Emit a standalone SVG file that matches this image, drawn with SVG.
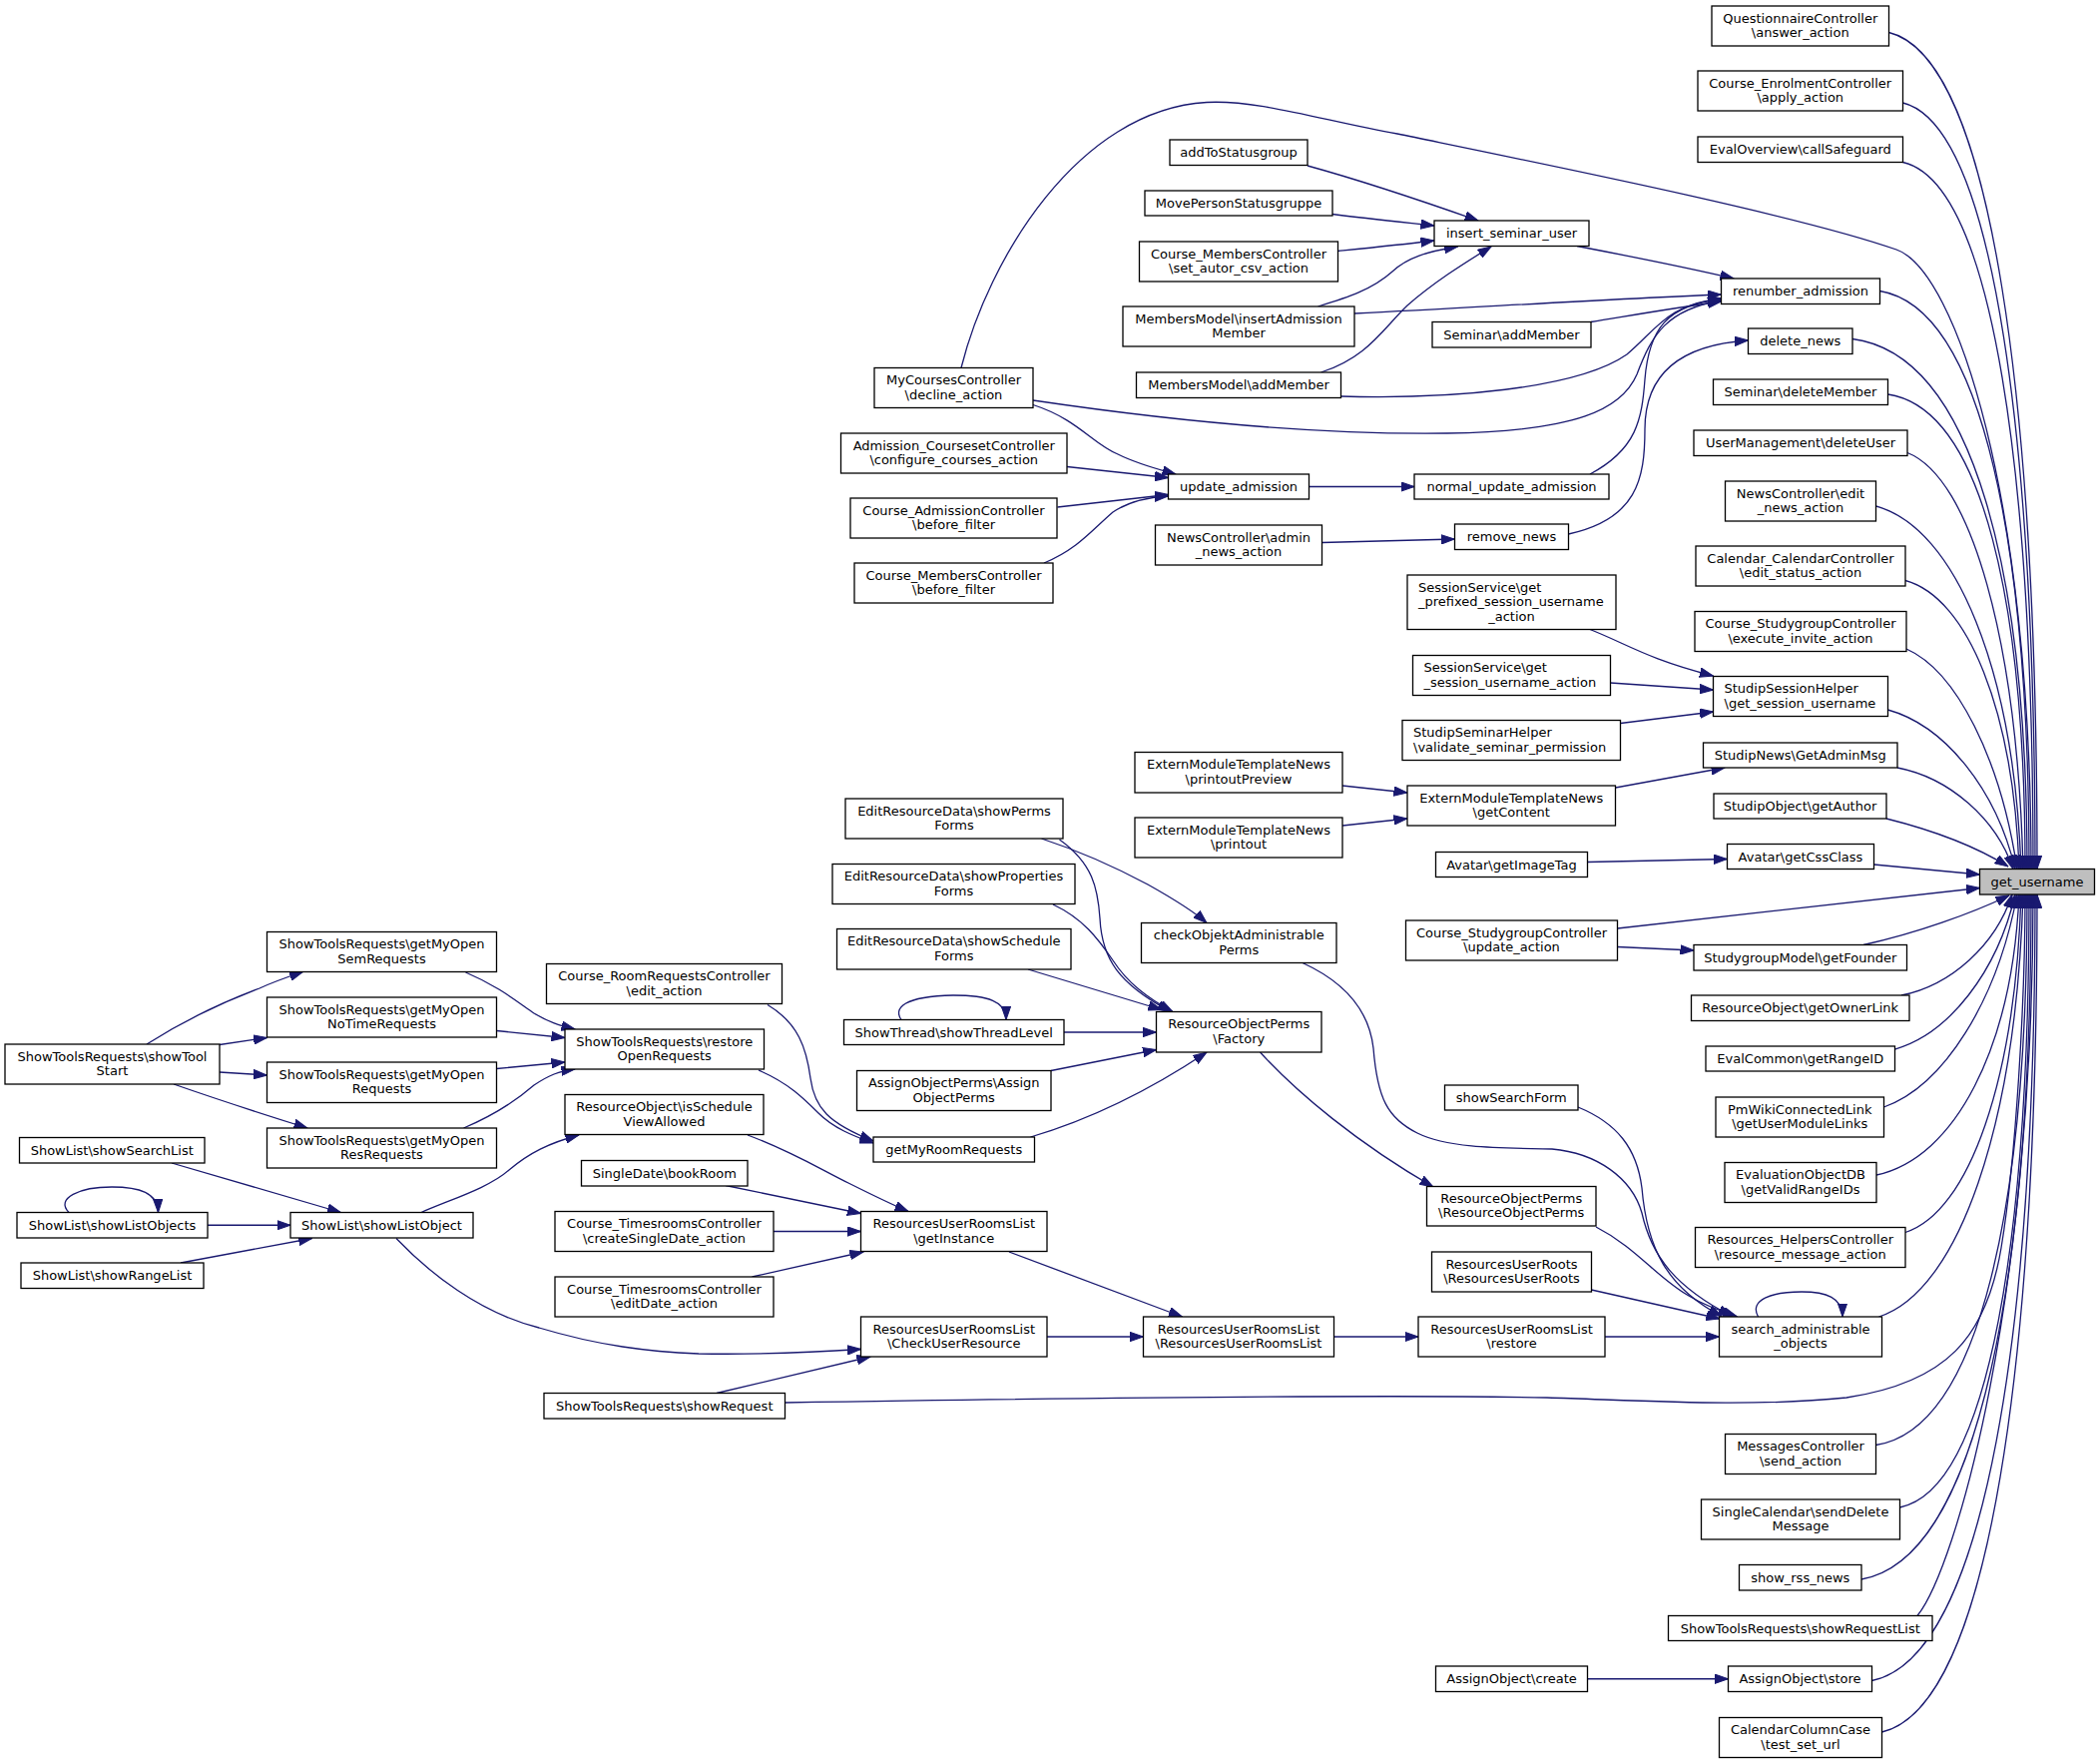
<svg xmlns="http://www.w3.org/2000/svg" width="2104" height="1767" viewBox="0 0 2104 1767">
<style>
.n rect{fill:#fff;stroke:#000;stroke-width:1.3}
.n text{font-family:"DejaVu Sans","Liberation Sans",sans-serif;font-size:13px;text-anchor:middle;fill:#000}
.n text.l{text-anchor:start}
#n39 rect{fill:#bfbfbf}
.e path{fill:none;stroke:#191970;stroke-width:1.3;marker-end:url(#a)}
</style>
<defs>
<marker id="a" markerUnits="userSpaceOnUse" markerWidth="14" markerHeight="10" viewBox="0 0 14 10" refX="13.5" refY="5" orient="auto"><path d="M0,0.3 L13.5,5 L0,9.7 z" fill="#191970" stroke="#191970" stroke-width="1"/></marker>
</defs>
<rect width="2104" height="1767" fill="#fff"/>
<g class="e">
<path d="M1310,166 C1350,177 1410,196 1481,221"/>
<path d="M1335,214.5 C1370,219 1400,222 1437,226"/>
<path d="M1340.5,251.5 C1370,248.5 1400,245.5 1437,241"/>
<path d="M1320.5,307 C1350,298 1375,290 1395,272 C1410,258 1430,252 1460.5,247"/>
<path d="M1323.5,373 C1370,358 1385,330 1410,306 C1440,280 1470,262 1494,247"/>
<path d="M1580,246.5 C1640,258 1690,268 1737,279"/>
<path d="M1357,314 C1480,308 1600,300 1724.5,295"/>
<path d="M1594,322.5 C1640,315 1680,308 1724.5,302"/>
<path d="M1343.5,397 C1450,400 1580,390 1630,355 C1660,330 1670,305 1724.5,299"/>
<path d="M1035,401 C1150,418 1300,436 1450,434 C1580,432 1625,410 1640,375 C1655,335 1670,310 1724.5,301"/>
<path d="M1593,475 C1640,450 1645,420 1648,380 C1652,330 1670,305 1724.5,300"/>
<path d="M963,368.5 C990,260 1080,110 1209,102.5 C1260,99.5 1330,122 1400,134 C1550,165 1800,215 1900,250 C1960,271 2035,500 2035,870.5"/>
<path d="M1035,405.5 C1080,420 1095,445 1120,455 C1140,465 1160,470 1178,475"/>
<path d="M1069,467.5 L1170.5,478.5"/>
<path d="M1059.5,508 L1170.5,495.5"/>
<path d="M1046,564 C1080,550 1095,530 1115,513 C1130,503 1150,498 1170.5,497"/>
<path d="M1311.5,487.5 L1417,487.5"/>
<path d="M1324.5,543.5 L1457.5,540"/>
<path d="M1571.5,535 C1640,520 1648,480 1648,430 C1648,370 1690,345 1751.5,341"/>
<path d="M1892.5,32.5 C1996.5,57.5 2041,409.5 2041,870.5"/>
<path d="M1906.5,103 C1999,126 2039,448.5 2039,870.5"/>
<path d="M1906.5,162.5 C1998,183.5 2037,481 2037,870.5"/>
<path d="M1883.5,291.5 C1988,309 2033,552 2033,870.5"/>
<path d="M1856,339.5 C1978.5,355.5 2031,578.5 2031,870.5"/>
<path d="M1891.5,395 C1987.75,409.3 2029,609 2029,870.5"/>
<path d="M1911,453.5 C1974.8,478.5 2021.2,641.2 2027,870.5"/>
<path d="M1879.5,507 C1959.5,528.8 2017.7,670.6 2025,870.5"/>
<path d="M1909,581.5 C1971.7,598.8 2017.3,711.6 2023,870.5"/>
<path d="M1910,650 C1960,672 2004.4,760 2021,870.5"/>
<path d="M1891.5,711 C1949,727 2000,791 2019,870.5"/>
<path d="M1901,769 C1953,779 2000,820 2017,870.5"/>
<path d="M1890,820 C1930,830 1975,845 2012,868"/>
<path d="M1877.5,866 L1983.5,876"/>
<path d="M1620.5,930 L1983.5,889.5"/>
<path d="M1867,946.5 C1920,935 1975,915 2013,897"/>
<path d="M1905,997 C1955,987 1999.4,946.5 2016,896"/>
<path d="M1898.5,1051 C1952.7,1035.5 2001,973.5 2019,896"/>
<path d="M1887.5,1109 C1947.6,1087.7 2001,1002.5 2021,896"/>
<path d="M1880,1177 C1958.7,1160 2015.9,1050.5 2023,896"/>
<path d="M1909,1234.5 C1972.8,1214.2 2019.2,1082.2 2025,896"/>
<path d="M1882.5,1319 C1962,1293.6 2019.8,1128.6 2027,896"/>
<path d="M786.5,1405 C1100,1400 1400,1397 1550,1400 C1650,1403 1750,1410 1850,1400 C1950,1385 1990,1340 2005,1250 C2020,1160 2029,1000 2029,896"/>
<path d="M1879.5,1447.5 C1985.5,1431 2031,1199.4 2031,896"/>
<path d="M1903.5,1510 C1994.2,1491.6 2033,1233.7 2033,896"/>
<path d="M1865,1582 C1984,1561.4 2035,1273.3 2035,896"/>
<path d="M1921,1618.5 C1960,1570 2037,1300 2037,896"/>
<path d="M1875.5,1683.5 C1990,1660 2039,1329 2039,896"/>
<path d="M1885.5,1735 C1994.4,1710 2041,1357.5 2041,896"/>
<path d="M1593,630.5 C1630,645 1650,660 1716.5,677"/>
<path d="M1613.5,684 L1716.5,691"/>
<path d="M1623.5,724.5 L1716.5,713"/>
<path d="M1618.5,789 L1728,769"/>
<path d="M1345,787 L1410,794"/>
<path d="M1345,827 L1410,820"/>
<path d="M1590.5,863.5 L1730.5,860.5"/>
<path d="M1620.5,948.5 L1697,952"/>
<path d="M1043.5,840 C1080,852 1120,870 1150,886 C1175,900 1195,912 1209,924.5"/>
<path d="M1061.5,841 C1095,865 1100,890 1102,920 C1104,960 1120,985 1173,1013.5"/>
<path d="M1055,906 C1085,920 1100,940 1115,962 C1130,985 1150,1000 1175,1013.5"/>
<path d="M1030,971 L1164,1011.5"/>
<path d="M1066,1034 L1158.5,1034"/>
<path d="M903,1021.5 C895,1010 905,998 955,997 C990,997 1008,1003 1008,1021.5"/>
<path d="M1053,1072.5 L1158.5,1051.5"/>
<path d="M1032.5,1139 C1080,1125 1140,1100 1209,1054"/>
<path d="M1305,964.5 C1350,985 1372,1015 1376,1050 C1380,1100 1390,1120 1420,1135 C1450,1150 1500,1150 1555,1151 C1600,1155 1635,1180 1645,1215 C1655,1260 1680,1290 1735,1318.5"/>
<path d="M1581,1109 C1620,1125 1640,1150 1645,1190 C1650,1250 1670,1290 1725,1318.5"/>
<path d="M1262.5,1054 C1300,1095 1360,1145 1436,1189"/>
<path d="M1599,1229 C1640,1250 1660,1280 1692,1298 C1705,1306 1720,1312 1740,1318.5"/>
<path d="M1594.5,1292 L1723,1321"/>
<path d="M1608,1339 L1722.5,1339"/>
<path d="M1761.5,1319 C1752,1302 1775,1294 1805,1294 C1830,1294 1846,1300 1846,1319"/>
<path d="M1336.5,1339 L1421,1339"/>
<path d="M1011,1254 L1184.5,1319"/>
<path d="M1049,1339 L1145.5,1339"/>
<path d="M749,1137 C790,1152 820,1170 850,1185 C870,1195 890,1205 910,1213.5"/>
<path d="M727,1187.5 L862.5,1215.5"/>
<path d="M775,1233.5 L862.5,1233.5"/>
<path d="M753.5,1279 L865,1254"/>
<path d="M422,1214.5 C450,1202 490,1190 510,1172 C530,1155 550,1145 580,1137"/>
<path d="M397,1240.5 C430,1275 480,1315 540,1330 C600,1348 650,1354 700,1356 C760,1357 810,1355 862.5,1351.5"/>
<path d="M718,1395.5 L872,1359"/>
<path d="M172,1165 L341.5,1214.5"/>
<path d="M208,1227.25 L291,1227.25"/>
<path d="M69,1214.5 C55,1200 80,1189 112,1189 C140,1189 158,1195 158.5,1214.5"/>
<path d="M181,1265 L312.5,1240.5"/>
<path d="M769,1006.5 C800,1025 808,1050 812,1080 C816,1110 830,1125 875,1143"/>
<path d="M760,1072 C790,1085 805,1100 820,1115 C835,1130 855,1138 875,1145"/>
<path d="M466.5,974 C500,988 520,1005 535,1015 C550,1024 560,1027 576,1031"/>
<path d="M497.5,1032.5 L566,1039.5"/>
<path d="M497.5,1070.5 L566,1064"/>
<path d="M464.5,1130 C500,1115 520,1100 535,1087 C550,1077 560,1073 576,1071"/>
<path d="M147,1046 C180,1025 220,1005 260,990 C275,983 290,978 303.5,973.5"/>
<path d="M220,1046.5 L267.5,1039.5"/>
<path d="M220,1074 L267.5,1077"/>
<path d="M174,1086 C220,1102 260,1115 308,1130"/>
<path d="M1590.5,1681.75 L1731.5,1681.75"/>
</g>
<g class="n" id="n1"><rect x="1715" y="6" width="177.5" height="40"/><text x="1803.75" y="22.5">QuestionnaireController</text><text x="1803.75" y="37">\answer_action</text></g>
<g class="n" id="n2"><rect x="1701" y="71" width="205.5" height="40"/><text x="1803.75" y="87.5">Course_EnrolmentController</text><text x="1803.75" y="102">\apply_action</text></g>
<g class="n" id="n3"><rect x="1701" y="137" width="205.5" height="25.5"/><text x="1803.75" y="154.25">EvalOverview\callSafeguard</text></g>
<g class="n" id="n4"><rect x="1172" y="140" width="138" height="25.5"/><text x="1241" y="157.25">addToStatusgroup</text></g>
<g class="n" id="n5"><rect x="1147" y="191" width="188" height="25"/><text x="1241" y="208">MovePersonStatusgruppe</text></g>
<g class="n" id="n6"><rect x="1437" y="221" width="155" height="25.5"/><text x="1514.5" y="238.25">insert_seminar_user</text></g>
<g class="n" id="n7"><rect x="1141.5" y="242" width="199" height="40"/><text x="1241" y="258.5">Course_MembersController</text><text x="1241" y="273">\set_autor_csv_action</text></g>
<g class="n" id="n8"><rect x="1724.5" y="279" width="159" height="25.5"/><text x="1804" y="296.25">renumber_admission</text></g>
<g class="n" id="n9"><rect x="1125" y="307" width="232" height="40"/><text x="1241" y="323.5">MembersModel\insertAdmission</text><text x="1241" y="338">Member</text></g>
<g class="n" id="n10"><rect x="1435" y="322.5" width="159" height="25.5"/><text x="1514.5" y="339.75">Seminar\addMember</text></g>
<g class="n" id="n11"><rect x="1751.5" y="329" width="104.5" height="25.5"/><text x="1803.75" y="346.25">delete_news</text></g>
<g class="n" id="n12"><rect x="876" y="368.5" width="159" height="40"/><text x="955.5" y="385">MyCoursesController</text><text x="955.5" y="399.5">\decline_action</text></g>
<g class="n" id="n13"><rect x="1138.5" y="373" width="205" height="25.5"/><text x="1241" y="390.25">MembersModel\addMember</text></g>
<g class="n" id="n14"><rect x="1716.5" y="380" width="175" height="25.5"/><text x="1804" y="397.25">Seminar\deleteMember</text></g>
<g class="n" id="n15"><rect x="1697" y="431" width="214" height="25.5"/><text x="1804" y="448.25">UserManagement\deleteUser</text></g>
<g class="n" id="n16"><rect x="842.5" y="434" width="226.5" height="40"/><text x="955.75" y="450.5">Admission_CoursesetController</text><text x="955.75" y="465">\configure_courses_action</text></g>
<g class="n" id="n17"><rect x="1170.5" y="475" width="141" height="25"/><text x="1241" y="492">update_admission</text></g>
<g class="n" id="n18"><rect x="1417" y="475" width="195" height="25"/><text x="1514.5" y="492">normal_update_admission</text></g>
<g class="n" id="n19"><rect x="1728.5" y="482" width="151" height="40"/><text x="1804" y="498.5">NewsController\edit</text><text x="1804" y="513">_news_action</text></g>
<g class="n" id="n20"><rect x="852" y="499" width="207" height="40"/><text x="955.5" y="515.5">Course_AdmissionController</text><text x="955.5" y="530">\before_filter</text></g>
<g class="n" id="n21"><rect x="1457.5" y="525" width="114" height="25.5"/><text x="1514.5" y="542.25">remove_news</text></g>
<g class="n" id="n22"><rect x="1157.5" y="526" width="167" height="40"/><text x="1241" y="542.5">NewsController\admin</text><text x="1241" y="557">_news_action</text></g>
<g class="n" id="n23"><rect x="1699" y="547" width="210" height="40"/><text x="1804" y="563.5">Calendar_CalendarController</text><text x="1804" y="578">\edit_status_action</text></g>
<g class="n" id="n24"><rect x="856" y="564" width="199" height="40"/><text x="955.5" y="580.5">Course_MembersController</text><text x="955.5" y="595">\before_filter</text></g>
<g class="n" id="n25"><rect x="1410" y="576" width="209" height="54.5"/><text class="l" x="1421" y="592.75">SessionService\get</text><text class="l" x="1421" y="607.25">_prefixed_session_username</text><text x="1514.5" y="621.75">_action</text></g>
<g class="n" id="n26"><rect x="1698" y="612.5" width="212" height="40"/><text x="1804" y="629">Course_StudygroupController</text><text x="1804" y="643.5">\execute_invite_action</text></g>
<g class="n" id="n27"><rect x="1415.5" y="656.5" width="198" height="40"/><text class="l" x="1426.5" y="673">SessionService\get</text><text class="l" x="1426.5" y="687.5">_session_username_action</text></g>
<g class="n" id="n28"><rect x="1716.5" y="677.5" width="175" height="40"/><text class="l" x="1727.5" y="694">StudipSessionHelper</text><text class="l" x="1727.5" y="708.5">\get_session_username</text></g>
<g class="n" id="n29"><rect x="1405" y="721.5" width="218.5" height="40"/><text class="l" x="1416" y="738">StudipSeminarHelper</text><text class="l" x="1416" y="752.5">\validate_seminar_permission</text></g>
<g class="n" id="n30"><rect x="1706.5" y="744" width="194.5" height="25"/><text x="1803.75" y="761">StudipNews\GetAdminMsg</text></g>
<g class="n" id="n31"><rect x="1137" y="753.5" width="208" height="40.5"/><text x="1241" y="770.25">ExternModuleTemplateNews</text><text x="1241" y="784.75">\printoutPreview</text></g>
<g class="n" id="n32"><rect x="1410" y="787" width="208.5" height="40"/><text x="1514.25" y="803.5">ExternModuleTemplateNews</text><text x="1514.25" y="818">\getContent</text></g>
<g class="n" id="n33"><rect x="1717" y="795" width="173" height="25"/><text x="1803.5" y="812">StudipObject\getAuthor</text></g>
<g class="n" id="n34"><rect x="847" y="800" width="218" height="40"/><text x="956" y="816.5">EditResourceData\showPerms</text><text x="956" y="831">Forms</text></g>
<g class="n" id="n35"><rect x="1137" y="819" width="208" height="40"/><text x="1241" y="835.5">ExternModuleTemplateNews</text><text x="1241" y="850">\printout</text></g>
<g class="n" id="n36"><rect x="1730.5" y="845.5" width="147" height="25"/><text x="1804" y="862.5">Avatar\getCssClass</text></g>
<g class="n" id="n37"><rect x="1438.5" y="853.5" width="152" height="25"/><text x="1514.5" y="870.5">Avatar\getImageTag</text></g>
<g class="n" id="n38"><rect x="834" y="865.5" width="243" height="40"/><text x="955.5" y="882">EditResourceData\showProperties</text><text x="955.5" y="896.5">Forms</text></g>
<g class="n" id="n39"><rect x="1983.5" y="870.5" width="115" height="25.5"/><text x="2041" y="887.75">get_username</text></g>
<g class="n" id="n40"><rect x="1408.5" y="922" width="212" height="40"/><text x="1514.5" y="938.5">Course_StudygroupController</text><text x="1514.5" y="953">\update_action</text></g>
<g class="n" id="n41"><rect x="1143.5" y="924.5" width="195.5" height="40"/><text x="1241.25" y="941">checkObjektAdministrable</text><text x="1241.25" y="955.5">Perms</text></g>
<g class="n" id="n42"><rect x="838.5" y="930.5" width="234.5" height="40.5"/><text x="955.75" y="947.25">EditResourceData\showSchedule</text><text x="955.75" y="961.75">Forms</text></g>
<g class="n" id="n43"><rect x="267.5" y="933.5" width="230" height="40"/><text x="382.5" y="950">ShowToolsRequests\getMyOpen</text><text x="382.5" y="964.5">SemRequests</text></g>
<g class="n" id="n44"><rect x="1697" y="946.5" width="213.5" height="25.5"/><text x="1803.75" y="963.75">StudygroupModel\getFounder</text></g>
<g class="n" id="n45"><rect x="547.5" y="965.5" width="236" height="40"/><text x="665.5" y="982">Course_RoomRequestsController</text><text x="665.5" y="996.5">\edit_action</text></g>
<g class="n" id="n46"><rect x="1694.5" y="997" width="218.5" height="25.5"/><text x="1803.75" y="1014.25">ResourceObject\getOwnerLink</text></g>
<g class="n" id="n47"><rect x="267.5" y="999" width="230" height="40"/><text x="382.5" y="1015.5">ShowToolsRequests\getMyOpen</text><text x="382.5" y="1030">NoTimeRequests</text></g>
<g class="n" id="n48"><rect x="1158.5" y="1013.5" width="165.5" height="40.5"/><text x="1241.25" y="1030.25">ResourceObjectPerms</text><text x="1241.25" y="1044.75">\Factory</text></g>
<g class="n" id="n49"><rect x="845.5" y="1021.5" width="220.5" height="25"/><text x="955.75" y="1038.5">ShowThread\showThreadLevel</text></g>
<g class="n" id="n50"><rect x="566" y="1031" width="199.5" height="40"/><text x="665.75" y="1047.5">ShowToolsRequests\restore</text><text x="665.75" y="1062">OpenRequests</text></g>
<g class="n" id="n51"><rect x="5" y="1046" width="215" height="40"/><text x="112.5" y="1062.5">ShowToolsRequests\showTool</text><text x="112.5" y="1077">Start</text></g>
<g class="n" id="n52"><rect x="1709" y="1048" width="189.5" height="25"/><text x="1803.75" y="1065">EvalCommon\getRangeID</text></g>
<g class="n" id="n53"><rect x="267.5" y="1064" width="230" height="40.5"/><text x="382.5" y="1080.75">ShowToolsRequests\getMyOpen</text><text x="382.5" y="1095.25">Requests</text></g>
<g class="n" id="n54"><rect x="858.5" y="1072.5" width="194.5" height="40"/><text x="955.75" y="1089">AssignObjectPerms\Assign</text><text x="955.75" y="1103.5">ObjectPerms</text></g>
<g class="n" id="n55"><rect x="1447.5" y="1087" width="133.5" height="25"/><text x="1514.25" y="1104">showSearchForm</text></g>
<g class="n" id="n56"><rect x="566" y="1096.5" width="199" height="40"/><text x="665.5" y="1113">ResourceObject\isSchedule</text><text x="665.5" y="1127.5">ViewAllowed</text></g>
<g class="n" id="n57"><rect x="1719" y="1099" width="168.5" height="40"/><text x="1803.25" y="1115.5">PmWikiConnectedLink</text><text x="1803.25" y="1130">\getUserModuleLinks</text></g>
<g class="n" id="n58"><rect x="267.5" y="1130" width="230" height="40"/><text x="382.5" y="1146.5">ShowToolsRequests\getMyOpen</text><text x="382.5" y="1161">ResRequests</text></g>
<g class="n" id="n59"><rect x="875" y="1139" width="161.5" height="25"/><text x="955.75" y="1156">getMyRoomRequests</text></g>
<g class="n" id="n60"><rect x="19.5" y="1139.5" width="185.5" height="25.5"/><text x="112.25" y="1156.75">ShowList\showSearchList</text></g>
<g class="n" id="n61"><rect x="582.5" y="1162.5" width="166.5" height="25.5"/><text x="665.75" y="1179.75">SingleDate\bookRoom</text></g>
<g class="n" id="n62"><rect x="1728" y="1164.5" width="152" height="40"/><text x="1804" y="1181">EvaluationObjectDB</text><text x="1804" y="1195.5">\getValidRangeIDs</text></g>
<g class="n" id="n63"><rect x="1429.5" y="1188.5" width="169.5" height="39.5"/><text x="1514.25" y="1204.75">ResourceObjectPerms</text><text x="1514.25" y="1219.25">\ResourceObjectPerms</text></g>
<g class="n" id="n64"><rect x="17" y="1214.5" width="191" height="25.5"/><text x="112.5" y="1231.75">ShowList\showListObjects</text></g>
<g class="n" id="n65"><rect x="291" y="1214.5" width="183" height="25.5"/><text x="382.5" y="1231.75">ShowList\showListObject</text></g>
<g class="n" id="n66"><rect x="556" y="1213.5" width="219" height="40"/><text x="665.5" y="1230">Course_TimesroomsController</text><text x="665.5" y="1244.5">\createSingleDate_action</text></g>
<g class="n" id="n67"><rect x="862.5" y="1213.5" width="186.5" height="40"/><text x="955.75" y="1230">ResourcesUserRoomsList</text><text x="955.75" y="1244.5">\getInstance</text></g>
<g class="n" id="n68"><rect x="1698.5" y="1229.5" width="210.5" height="40"/><text x="1803.75" y="1246">Resources_HelpersController</text><text x="1803.75" y="1260.5">\resource_message_action</text></g>
<g class="n" id="n69"><rect x="1434.5" y="1254" width="160" height="40"/><text x="1514.5" y="1270.5">ResourcesUserRoots</text><text x="1514.5" y="1285">\ResourcesUserRoots</text></g>
<g class="n" id="n70"><rect x="21" y="1265" width="183" height="25.5"/><text x="112.5" y="1282.25">ShowList\showRangeList</text></g>
<g class="n" id="n71"><rect x="556" y="1279" width="219" height="40"/><text x="665.5" y="1295.5">Course_TimesroomsController</text><text x="665.5" y="1310">\editDate_action</text></g>
<g class="n" id="n72"><rect x="862.5" y="1319" width="186.5" height="40"/><text x="955.75" y="1335.5">ResourcesUserRoomsList</text><text x="955.75" y="1350">\CheckUserResource</text></g>
<g class="n" id="n73"><rect x="1145.5" y="1319" width="191" height="40"/><text x="1241" y="1335.5">ResourcesUserRoomsList</text><text x="1241" y="1350">\ResourcesUserRoomsList</text></g>
<g class="n" id="n74"><rect x="1421" y="1319" width="187" height="40"/><text x="1514.5" y="1335.5">ResourcesUserRoomsList</text><text x="1514.5" y="1350">\restore</text></g>
<g class="n" id="n75"><rect x="1722.5" y="1319" width="163" height="40"/><text x="1804" y="1335.5">search_administrable</text><text x="1804" y="1350">_objects</text></g>
<g class="n" id="n76"><rect x="545" y="1395.5" width="241.5" height="25.5"/><text x="665.75" y="1412.75">ShowToolsRequests\showRequest</text></g>
<g class="n" id="n77"><rect x="1728.5" y="1436.5" width="151" height="40"/><text x="1804" y="1453">MessagesController</text><text x="1804" y="1467.5">\send_action</text></g>
<g class="n" id="n78"><rect x="1704.5" y="1502" width="199" height="40"/><text x="1804" y="1518.5">SingleCalendar\sendDelete</text><text x="1804" y="1533">Message</text></g>
<g class="n" id="n79"><rect x="1742.5" y="1567.5" width="122.5" height="25.5"/><text x="1803.75" y="1584.75">show_rss_news</text></g>
<g class="n" id="n80"><rect x="1671.5" y="1618.5" width="264.5" height="25"/><text x="1803.75" y="1635.5">ShowToolsRequests\showRequestList</text></g>
<g class="n" id="n81"><rect x="1438.5" y="1669" width="152" height="25.5"/><text x="1514.5" y="1686.25">AssignObject\create</text></g>
<g class="n" id="n82"><rect x="1731.5" y="1669" width="144" height="25.5"/><text x="1803.5" y="1686.25">AssignObject\store</text></g>
<g class="n" id="n83"><rect x="1722.5" y="1720.5" width="163" height="40"/><text x="1804" y="1737">CalendarColumnCase</text><text x="1804" y="1751.5">\test_set_url</text></g>
</svg>
